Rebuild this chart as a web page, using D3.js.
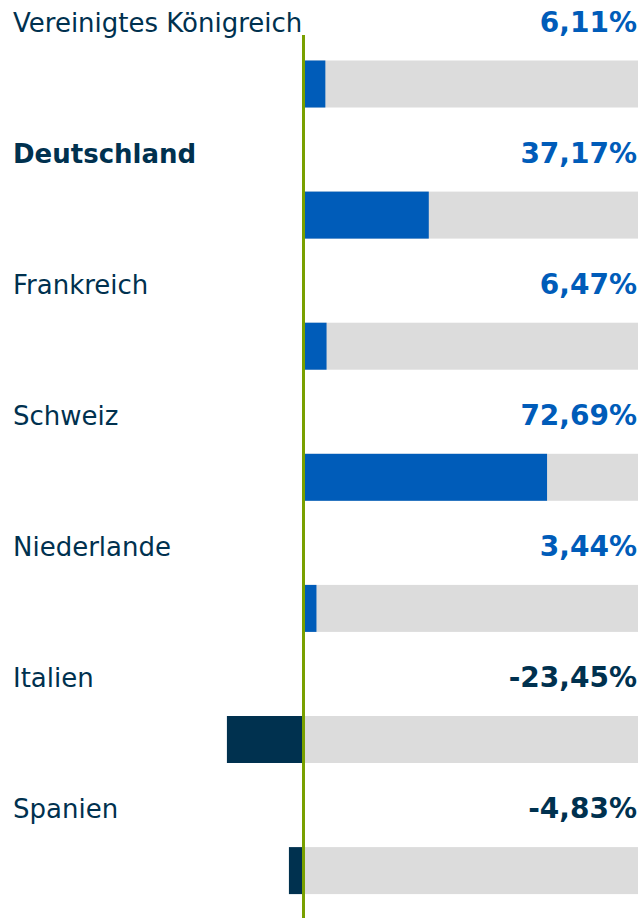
<!DOCTYPE html>
<html><head><meta charset="utf-8">
<script src="https://cdn.jsdelivr.net/npm/d3@7"></script>
<style>html,body{margin:0;padding:0;background:#fff;}</style>
</head><body>
<svg id="chart" width="643" height="918"></svg>
<script>
const categories = ["Vereinigtes Königreich","Deutschland","Frankreich","Schweiz","Niederlande","Italien","Spanien"];
const values = [6.11, 37.17, 6.47, 72.69, 3.44, -23.45, -4.83];
const highlighted = ["Deutschland"];

const svg = d3.select("#chart");
const W = 643, H = 918;
const x = d3.scaleLinear().domain([0, 100]).range([305, 638]);
const y = d3.scaleBand().domain(categories).range([60.5, 60.5 + 7 * 131.1]).paddingInner(0);
const barH = 47;
const loc = d3.formatLocale({decimal: ",", thousands: ".", grouping: [3], currency: ["", " €"], minus: "-"});
const fmt = v => loc.format(".2f")(v) + "%";
const blue = "#005cb9", navy = "#00314f";

const rows = svg.selectAll("g.row").data(categories).enter().append("g").attr("class","row");

rows.append("rect")
  .attr("x", x(0)).attr("width", x(100) - x(0))
  .attr("y", d => y(d)).attr("height", barH)
  .attr("fill", "#dcdcdc");

rows.append("rect")
  .attr("x", (d,i) => values[i] >= 0 ? x(0) : x(values[i]))
  .attr("width", (d,i) => Math.abs(x(values[i]) - x(0)))
  .attr("y", d => y(d)).attr("height", barH)
  .attr("fill", (d,i) => values[i] >= 0 ? blue : navy);

rows.append("text")
  .attr("x", 13).attr("y", d => y(d) - 29)
  .attr("font-family", "'DejaVu Sans',sans-serif")
  .attr("font-size", 26)
  .attr("font-weight", d => highlighted.includes(d) ? "bold" : "normal")
  .attr("fill", navy)
  .text(d => d);

rows.append("text")
  .attr("x", 637).attr("y", d => y(d) - 29)
  .attr("text-anchor", "end")
  .attr("font-family", "'DejaVu Sans',sans-serif")
  .attr("font-size", 28)
  .attr("font-weight", "bold")
  .attr("fill", (d,i) => values[i] >= 0 ? blue : navy)
  .text((d,i) => fmt(values[i]));

svg.append("line")
  .attr("x1", x(0) - 1.5).attr("x2", x(0) - 1.5)
  .attr("y1", 35).attr("y2", H)
  .attr("stroke", "#79a000").attr("stroke-width", 3);
</script>
</body></html>
